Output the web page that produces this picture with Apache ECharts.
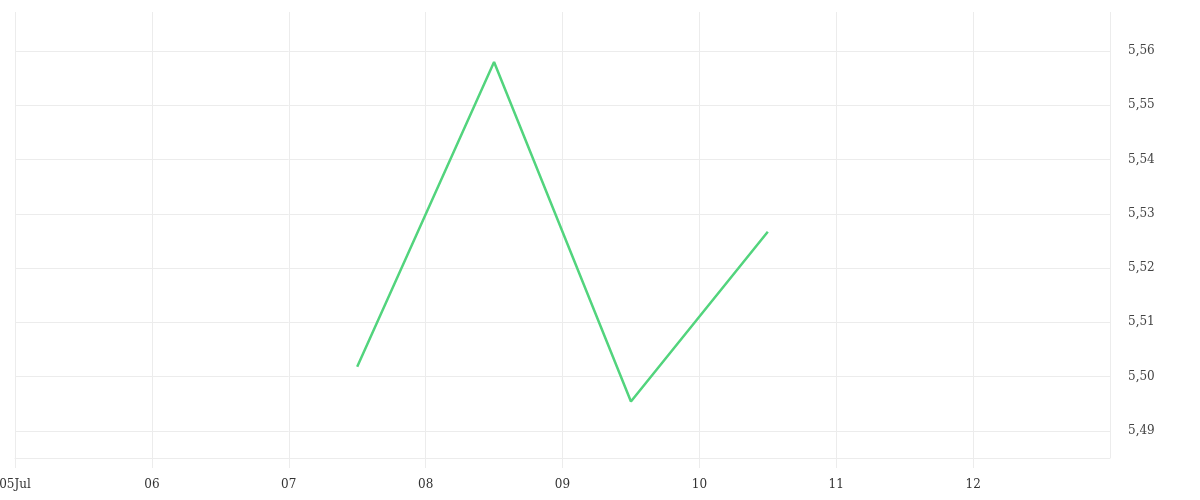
<!DOCTYPE html>
<html>
<head>
<meta charset="utf-8">
<script src="https://cdn.jsdelivr.net/npm/echarts@6/dist/echarts.min.js"></script>
<style>
  html, body { margin: 0; padding: 0; background: #fff; }
  #chart { width: 1200px; height: 500px; }
</style>
</head>
<body>
<div id="chart"></div>
<script>
// data
const times = ['2024-07-07 12:00', '2024-07-08 12:00', '2024-07-09 12:00', '2024-07-10 12:00'];
const values = [5.5018, 5.558, 5.4954, 5.5267];

const xStart = '2024-07-05 00:00';
const xEnd = '2024-07-13 00:00';

const gridColor = '#ececec';
const labelFont = '"DejaVu Serif", serif';

const chart = echarts.init(document.getElementById('chart'), null, { renderer: 'canvas' });

chart.setOption({
  animation: false,
  grid: { left: 15, right: 90, top: 12, bottom: 42, outerBoundsMode: 'none', containLabel: false },
  xAxis: {
    type: 'time',
    min: xStart,
    max: xEnd,
    interval: 24 * 3600 * 1000,
    axisLine: { show: true, lineStyle: { color: gridColor } },
    axisTick: { show: true, length: 10, lineStyle: { color: gridColor } },
    splitLine: { show: true, lineStyle: { color: gridColor } },
    axisLabel: {
      margin: 21,
      fontFamily: labelFont,
      fontSize: 12,
      color: '#333',
      showMaxLabel: false,
      formatter: function (v) {
        const d = new Date(v);
        const dd = String(d.getDate()).padStart(2, '0');
        return d.getDate() === 5 ? dd + 'Jul' : dd;
      }
    }
  },
  yAxis: {
    type: 'value',
    position: 'right',
    min: 5.485,
    max: 5.5672,
    splitNumber: 8,
    axisLine: { show: false },
    axisTick: { show: false },
    splitLine: { show: true, showMaxLine: false, lineStyle: { color: gridColor } },
    axisLabel: {
      margin: 18,
      padding: [6, 0, 0, 0],
      fontFamily: labelFont,
      fontSize: 12,
      color: '#444',
      showMinLabel: false,
      showMaxLabel: false,
      formatter: function (v) { return v.toFixed(2).replace('.', ','); }
    }
  },
  series: [{
    type: 'line',
    data: times.map((t, i) => [t, values[i]]),
    showSymbol: false,
    symbol: 'none',
    lineStyle: { color: '#52d47d', width: 2.5 },
    itemStyle: { color: '#52d47d' }
  }]
});
</script>
</body>
</html>
